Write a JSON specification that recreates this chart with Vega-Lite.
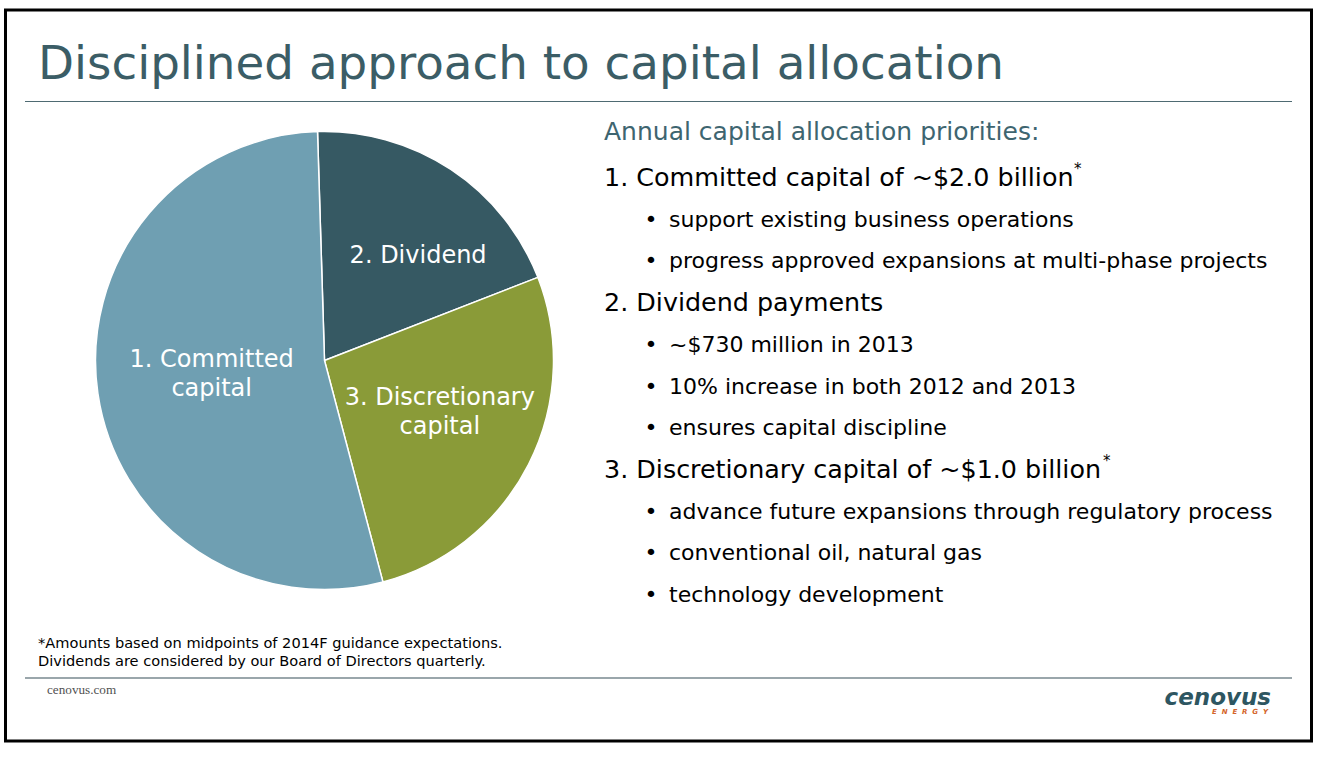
{
  "$schema": "https://vega.github.io/schema/vega-lite/v6.json",
  "width": 1329,
  "height": 757,
  "autosize": {"type": "fit", "contains": "padding"},
  "padding": {"left": 5.5, "top": 10, "right": 17.5, "bottom": 16},
  "background": "white",
  "config": {
    "view": {"stroke": "#000000", "strokeWidth": 3},
    "font": "DejaVu Sans",
    "text": {"font": "DejaVu Sans"}
  },
  "datasets": {
    "allocation": [
      {"segment": "2. Dividend", "label": "2. Dividend", "value": 0.73, "rank": 1},
      {"segment": "3. Discretionary capital", "label": "3. Discretionary\ncapital", "value": 1.0, "rank": 2},
      {"segment": "1. Committed capital", "label": "1. Committed\ncapital", "value": 2.0, "rank": 3}
    ],
    "notes": [
      {"line": 1, "kind": "sub", "text": "Annual capital allocation priorities:"},
      {"line": 2, "kind": "head", "text": "1. Committed capital of ~$2.0 billion"},
      {"line": 3, "kind": "bullet", "text": "support existing business operations"},
      {"line": 4, "kind": "bullet", "text": "progress approved expansions at multi-phase projects"},
      {"line": 5, "kind": "head", "text": "2. Dividend payments"},
      {"line": 6, "kind": "bullet", "text": "~$730 million in 2013"},
      {"line": 7, "kind": "bullet", "text": "10% increase in both 2012 and 2013"},
      {"line": 8, "kind": "bullet", "text": "ensures capital discipline"},
      {"line": 9, "kind": "head", "text": "3. Discretionary capital of ~$1.0 billion"},
      {"line": 10, "kind": "bullet", "text": "advance future expansions through regulatory process"},
      {"line": 11, "kind": "bullet", "text": "conventional oil, natural gas"},
      {"line": 12, "kind": "bullet", "text": "technology development"}
    ]
  },
  "layer": [
    {
      "data": {"values": [{"text": "Disciplined approach to capital allocation"}]},
      "mark": {"type": "text", "align": "left", "baseline": "alphabetic", "fontSize": 46.8, "color": "#3b5d66"},
      "encoding": {"text": {"field": "text"}, "x": {"value": 32.5}, "y": {"value": 69}}
    },
    {
      "data": {"values": [{}]},
      "mark": {"type": "rule", "color": "#4e6a72", "strokeWidth": 1},
      "encoding": {"x": {"value": 19.5}, "x2": {"value": 1286.5}, "y": {"value": 91.5}}
    },
    {
      "data": {"name": "allocation"},
      "mark": {"type": "arc", "outerRadius": 229, "stroke": "white", "strokeWidth": 1.5},
      "encoding": {
        "theta": {"field": "value", "type": "quantitative", "stack": true, "scale": {"range": [-0.0305, 6.2527]}},
        "order": {"field": "rank", "type": "quantitative"},
        "color": {
          "field": "segment",
          "type": "nominal",
          "legend": null,
          "scale": {
            "domain": ["1. Committed capital", "2. Dividend", "3. Discretionary capital"],
            "range": ["#6f9fb2", "#365963", "#8a9b38"]
          }
        },
        "x": {"value": 319},
        "y": {"value": 350.5}
      }
    },
    {
      "data": {"name": "allocation"},
      "mark": {"type": "text", "radius": 114, "dy": -17, "fontSize": 24, "color": "white", "align": "center", "baseline": "middle", "lineBreak": "\n", "lineHeight": 29},
      "encoding": {
        "theta": {"field": "value", "type": "quantitative", "stack": true},
        "order": {"field": "rank", "type": "quantitative"},
        "text": {"condition": {"test": "datum.rank !== 3", "value": ""}, "field": "label"},
        "x": {"value": 319},
        "y": {"value": 350.5}
      }
    },
    {
      "data": {"name": "allocation"},
      "transform": [{"filter": "datum.rank <= 2"}],
      "mark": {"type": "text", "radius": 126, "dx": 3, "dy": -19.5, "fontSize": 24, "color": "white", "align": "center", "baseline": "middle", "lineBreak": "\n", "lineHeight": 29},
      "encoding": {
        "theta": {"field": "value", "type": "quantitative", "stack": true},
        "order": {"field": "rank", "type": "quantitative"},
        "text": {"condition": {"test": "datum.rank !== 2", "value": ""}, "field": "label"},
        "x": {"value": 319},
        "y": {"value": 350.5}
      }
    },
    {
      "data": {"name": "allocation"},
      "transform": [{"filter": "datum.rank === 1"}],
      "mark": {"type": "text", "radius": 128, "dx": 23, "dy": 2, "fontSize": 24, "color": "white", "align": "center", "baseline": "middle"},
      "encoding": {
        "theta": {"field": "value", "type": "quantitative", "stack": true},
        "order": {"field": "rank", "type": "quantitative"},
        "text": {"field": "label"},
        "x": {"value": 319},
        "y": {"value": 350.5}
      }
    },
    {
      "data": {"name": "notes"},
      "transform": [{"filter": "datum.kind === 'sub'"}],
      "mark": {"type": "text", "align": "left", "baseline": "middle", "fontSize": 25, "color": "#3e6570"},
      "encoding": {
        "text": {"field": "text"},
        "x": {"value": 598.5},
        "y": {"value": 122}
      }
    },
    {
      "data": {"name": "notes"},
      "transform": [{"filter": "datum.kind === 'head'"}],
      "mark": {"type": "text", "align": "left", "baseline": "middle", "fontSize": 25.4, "color": "#000000"},
      "encoding": {
        "text": {"field": "text"},
        "x": {"value": 598.5},
        "y": {"field": "line", "type": "ordinal", "axis": null, "scale": {"type": "point", "range": [168, 585], "padding": 0}}
      }
    },
    {
      "data": {"name": "notes"},
      "transform": [{"filter": "datum.kind === 'bullet'"}],
      "mark": {"type": "text", "align": "center", "baseline": "middle", "fontSize": 22, "color": "#000000"},
      "encoding": {
        "text": {"value": "•"},
        "x": {"value": 645.5},
        "y": {"field": "line", "type": "ordinal", "axis": null}
      }
    },
    {
      "data": {"name": "notes"},
      "transform": [{"filter": "datum.kind === 'bullet'"}],
      "mark": {"type": "text", "align": "left", "baseline": "middle", "fontSize": 22, "color": "#000000"},
      "encoding": {
        "text": {"field": "text"},
        "x": {"value": 663.5},
        "y": {"field": "line", "type": "ordinal", "axis": null}
      }
    },
    {
      "data": {"values": [{"line": 2, "text": "*"}]},
      "mark": {"type": "text", "align": "left", "baseline": "middle", "fontSize": 15, "dy": -9, "color": "#000000"},
      "encoding": {
        "text": {"field": "text"},
        "x": {"value": 1068.5},
        "y": {"field": "line", "type": "ordinal", "axis": null}
      }
    },
    {
      "data": {"values": [{"line": 9, "text": "*"}]},
      "mark": {"type": "text", "align": "left", "baseline": "middle", "fontSize": 15, "dy": -9, "color": "#000000"},
      "encoding": {
        "text": {"field": "text"},
        "x": {"value": 1097.5},
        "y": {"field": "line", "type": "ordinal", "axis": null}
      }
    },
    {
      "data": {"values": [{"text": "*Amounts based on midpoints of 2014F guidance expectations.\nDividends are considered by our Board of Directors quarterly."}]},
      "mark": {"type": "text", "align": "left", "baseline": "alphabetic", "fontSize": 14.6, "lineBreak": "\n", "lineHeight": 18, "color": "#000000"},
      "encoding": {"text": {"field": "text"}, "x": {"value": 32.5}, "y": {"value": 638}}
    },
    {
      "data": {"values": [{}]},
      "mark": {"type": "rule", "color": "#9aa6ab", "strokeWidth": 2},
      "encoding": {"x": {"value": 19.5}, "x2": {"value": 1286.5}, "y": {"value": 668}}
    },
    {
      "data": {"values": [{"text": "cenovus.com"}]},
      "mark": {"type": "text", "align": "left", "baseline": "alphabetic", "fontSize": 13.2, "font": "Liberation Serif", "color": "#505050"},
      "encoding": {"text": {"field": "text"}, "x": {"value": 41.5}, "y": {"value": 684}}
    },
    {
      "data": {"values": [{"text": "cenovus"}]},
      "mark": {"type": "text", "align": "right", "baseline": "alphabetic", "fontSize": 23, "fontWeight": "bold", "fontStyle": "italic", "color": "#2e5661"},
      "encoding": {"text": {"field": "text"}, "x": {"value": 1265.5}, "y": {"value": 695}}
    },
    {
      "data": {"values": [{"text": "E\u00a0 N\u00a0 E\u00a0 R\u00a0 G\u00a0 Y"}]},
      "mark": {"type": "text", "align": "right", "baseline": "alphabetic", "fontSize": 7, "fontWeight": "bold", "fontStyle": "italic", "color": "#d4642a"},
      "encoding": {"text": {"field": "text"}, "x": {"value": 1262.5}, "y": {"value": 704}}
    }
  ]
}
